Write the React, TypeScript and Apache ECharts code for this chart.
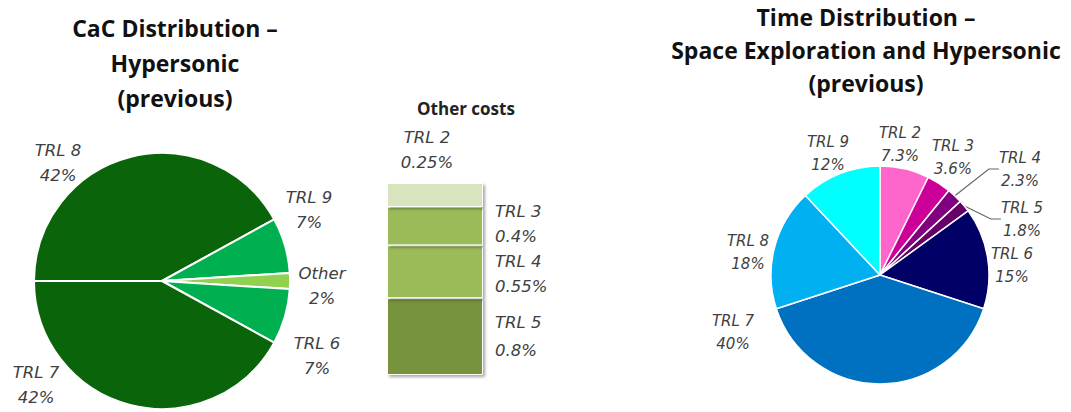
import React, { useEffect, useRef } from "react";
import * as echarts from "echarts";

// ---- data ----
const cacCategories = ["TRL 8", "TRL 9", "Other", "TRL 6", "TRL 7"];
const cacValues = [42, 7, 2, 7, 42];

const otherCategories = ["TRL 5", "TRL 4", "TRL 3", "TRL 2"];
const otherValues = [0.8, 0.55, 0.4, 0.25];

const timeCategories = ["TRL 2", "TRL 3", "TRL 4", "TRL 5", "TRL 6", "TRL 7", "TRL 8", "TRL 9"];
const timeValues = [7.3, 3.6, 2.3, 1.8, 15, 40, 18, 12];

// ---- styles ----
const cacColors = ["#0a640a", "#00b050", "#92d050", "#00b050", "#0a640a"];
const otherColors = ["#77933c", "#9bbb59", "#9bbb59", "#d7e4bd"];
const timeColors = ["#ff66cc", "#cc0099", "#800080", "#660066", "#000066", "#0070c0", "#00b0f0", "#00ffff"];

const cacLabelPos: [number, number][] = [[58, 163], [309, 210], [322, 286], [317, 356], [36, 385]];
const timeLabelPos: [number, number][] = [
  [900, 144], [953, 157], [1020, 169], [1022, 219], [1012, 265], [733, 332], [748, 252], [828, 153],
];

const TITLE_FONT = "'Open Sans', Lato, sans-serif";
const LABEL_FONT = "'DejaVu Sans', 'Open Sans', sans-serif";
const labelText = {
  fontFamily: LABEL_FONT,
  fontStyle: "italic" as const,
  fontSize: 16.5,
  color: "#404040",
  lineHeight: 25,
};

export default function App() {
  const ref = useRef<HTMLDivElement>(null);
  useEffect(() => {
    document.body.style.margin = "0";
    const chart = echarts.init(ref.current!, null, { renderer: "svg" });
    chart.setOption({
      animation: false,
      backgroundColor: "#ffffff",
      title: [
        {
          text: "CaC Distribution –\nHypersonic\n(previous)",
          left: 175,
          top: 10,
          textAlign: "center",
          padding: 0,
          textStyle: { fontFamily: TITLE_FONT, fontSize: 23, fontWeight: "bold", color: "#111", lineHeight: 35 },
        },
        {
          text: "Other costs",
          left: 466,
          top: 98,
          textAlign: "center",
          padding: 0,
          textStyle: { fontFamily: TITLE_FONT, fontSize: 17, fontWeight: "bold", color: "#222", lineHeight: 20 },
        },
        {
          text: "Time Distribution –\nSpace Exploration and Hypersonic\n(previous)",
          left: 866,
          top: 0,
          textAlign: "center",
          padding: 0,
          textStyle: { fontFamily: TITLE_FONT, fontSize: 23, fontWeight: "bold", color: "#111", lineHeight: 33 },
        },
      ],
      grid: { left: 387, top: 183, width: 96, height: 192 },
      xAxis: { type: "category", data: ["Other costs"], show: false },
      yAxis: { type: "value", min: 0, max: 2, show: false },
      series: [
        ...otherCategories.map((name, i) => ({
          type: "bar",
          name,
          stack: "other",
          barWidth: "100%",
          data: [otherValues[i]],
          itemStyle: {
            color: otherColors[i],
            borderColor: "#ffffff",
            borderWidth: 1,
            shadowColor: "rgba(0,0,0,0.35)",
            shadowBlur: 3,
            shadowOffsetX: 2,
            shadowOffsetY: 2,
          },
          label: {
            show: true,
            position: name === "TRL 2" ? "top" : "right",
            distance: name === "TRL 2" ? 8 : 12,
            offset: name === "TRL 2" ? [-8, 0] : name === "TRL 3" ? [0, -2] : name === "TRL 4" ? [0, 2] : [0, 0],
            align: name === "TRL 2" ? "center" : "left",
            formatter: (p: any) => `${p.seriesName}\n${p.value}%`,
            ...labelText,
            lineHeight: name === "TRL 2" ? 25 : name === "TRL 5" ? 28 : 25,
          },
        })),
        {
          type: "pie",
          name: "CaC",
          center: [162, 281],
          radius: 128,
          startAngle: 180,
          clockwise: true,
          data: cacCategories.map((name, i) => ({ name, value: cacValues[i], itemStyle: { color: cacColors[i] } })),
          itemStyle: { borderColor: "#ffffff", borderWidth: 2 },
          label: { show: true, position: "outside", formatter: "{b}\n{c}%", ...labelText },
          labelLine: { show: false },
          labelLayout: (p: any) => ({
            x: cacLabelPos[p.dataIndex][0],
            y: cacLabelPos[p.dataIndex][1],
            align: "center",
            verticalAlign: "middle",
          }),
          emphasis: { disabled: true },
        },
        {
          type: "pie",
          name: "Time",
          center: [880, 275],
          radius: 109,
          startAngle: 90,
          clockwise: true,
          data: timeCategories.map((name, i) => ({
            name,
            value: timeValues[i],
            itemStyle: { color: timeColors[i] },
            labelLine: { show: name === "TRL 4" || name === "TRL 5" },
          })),
          itemStyle: { borderColor: "#ffffff", borderWidth: 1.5 },
          label: { show: true, position: "outside", formatter: "{b}\n{c}%", ...labelText, fontSize: 15, lineHeight: 23 },
          labelLine: { show: false, lineStyle: { color: "#666", width: 1.2 }, length: 10, length2: 10 },
          labelLayout: (p: any) => ({
            x: timeLabelPos[p.dataIndex][0],
            y: timeLabelPos[p.dataIndex][1],
            align: "center",
            verticalAlign: "middle",
          }),
          emphasis: { disabled: true },
        },
      ],
    });
    return () => chart.dispose();
  }, []);
  return <div ref={ref} style={{ width: 1071, height: 412 }} />;
}
